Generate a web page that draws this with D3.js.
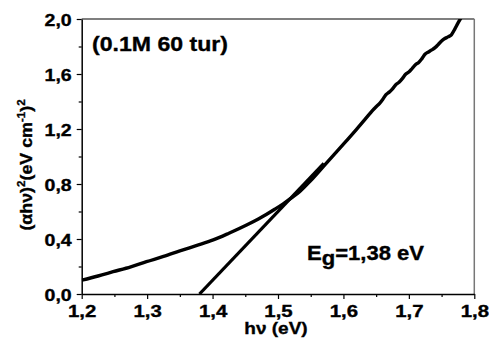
<!DOCTYPE html>
<html>
<head>
<meta charset="utf-8">
<script src="https://cdn.jsdelivr.net/npm/d3@7"></script>
<style>
  body { margin: 0; background: #fff; }
  svg { display: block; font-family: "Liberation Sans", Arial, sans-serif; font-weight: bold; }
  .lbl { stroke: #000; stroke-width: 0.35px; fill: #000; }
</style>
</head>
<body>
<svg id="chart" width="489" height="342"></svg>
<script>
// Tauc plot: photon energy (eV) vs (alpha h nu)^2
const energy = [
  1.200, 1.225, 1.248, 1.275, 1.299, 1.325, 1.350, 1.375, 1.401, 1.425,
  1.452, 1.470, 1.482, 1.495, 1.508, 1.520, 1.533, 1.550, 1.575, 1.600,
  1.620, 1.640, 1.645, 1.650, 1.655, 1.660, 1.665, 1.670, 1.675, 1.680,
  1.685, 1.690, 1.695, 1.700, 1.705, 1.710, 1.715, 1.720, 1.725, 1.730,
  1.735, 1.740, 1.745, 1.750, 1.755, 1.760, 1.765, 1.770, 1.775, 1.780, 1.785
];
const absorption = [
  0.100, 0.131, 0.162, 0.198, 0.235, 0.273, 0.313, 0.352, 0.393, 0.442,
  0.502, 0.546, 0.578, 0.616, 0.656, 0.697, 0.744, 0.825, 0.958, 1.090,
  1.198, 1.310, 1.338, 1.362, 1.385, 1.415, 1.450, 1.468, 1.492, 1.522,
  1.540, 1.566, 1.598, 1.614, 1.640, 1.668, 1.684, 1.712, 1.745, 1.760,
  1.775, 1.792, 1.815, 1.840, 1.858, 1.870, 1.885, 1.925, 1.970, 2.010, 2.050
];
// Linear extrapolation to the energy axis
const fitEnergy = [1.380, 1.570];
const fitValue = [0.000, 0.950];

const xMajor = [1.2, 1.3, 1.4, 1.5, 1.6, 1.7, 1.8];
const xMajorLabels = ["1,2", "1,3", "1,4", "1,5", "1,6", "1,7", "1,8"];
const xMinor = [1.25, 1.35, 1.45, 1.55, 1.65, 1.75];
const yMajor = [0, 0.4, 0.8, 1.2, 1.6, 2.0];
const yMajorLabels = ["0,0", "0,4", "0,8", "1,2", "1,6", "2,0"];
const yMinor = [0.2, 0.6, 1.0, 1.4, 1.8];

const sampleLabel = "(0.1M 60 tur)";
const gapLabel = ["E", "g", "=1,38 eV"];

const svg = d3.select("#chart");
const plotLeft = 81.7, plotRight = 474.3, plotTop = 19, plotBottom = 294;

const x = d3.scaleLinear().domain([1.2, 1.8]).range([plotLeft, plotRight]);
const y = d3.scaleLinear().domain([0, 2.0]).range([plotBottom, plotTop]);

// frame: top black, right grey
svg.append("line").attr("x1", plotLeft).attr("x2", plotRight).attr("y1", plotTop).attr("y2", plotTop)
  .attr("stroke", "#000").attr("stroke-width", 1.2);
svg.append("line").attr("x1", plotRight).attr("x2", plotRight).attr("y1", plotTop).attr("y2", plotBottom)
  .attr("stroke", "#777").attr("stroke-width", 1.5);

// axes
const xAxis = svg.append("g").attr("transform", `translate(0,${plotBottom})`)
  .call(d3.axisBottom(x).tickValues(xMajor).tickFormat((d, i) => xMajorLabels[i]).tickSize(5).tickSizeOuter(0));
svg.append("g").attr("transform", `translate(0,${plotBottom})`)
  .call(d3.axisBottom(x).tickValues(xMinor).tickFormat("").tickSize(3).tickSizeOuter(0))
  .select(".domain").remove();
const yAxis = svg.append("g").attr("transform", `translate(${plotLeft},0)`)
  .call(d3.axisLeft(y).tickValues(yMajor).tickFormat((d, i) => yMajorLabels[i]).tickSize(5).tickSizeOuter(0));
svg.append("g").attr("transform", `translate(${plotLeft},0)`)
  .call(d3.axisLeft(y).tickValues(yMinor).tickFormat("").tickSize(3).tickSizeOuter(0))
  .select(".domain").remove();

svg.selectAll(".domain").attr("stroke", "#000").attr("stroke-width", 1.5);
svg.selectAll(".tick line").attr("stroke", "#000").attr("stroke-width", 1.2);
xAxis.selectAll("text").attr("class", "lbl").attr("font-size", 17).attr("font-weight", "bold")
  .attr("font-family", "Liberation Sans, Arial, sans-serif")
  .attr("y", 0).attr("dy", 0).attr("transform", "translate(0,23) scale(1.2,1)");
yAxis.selectAll("text").attr("class", "lbl").attr("font-size", 17).attr("font-weight", "bold")
  .attr("font-family", "Liberation Sans, Arial, sans-serif")
  .attr("x", 0).attr("dy", 0).attr("transform", "translate(-10,6) scale(1.15,1)");

// axis titles
svg.append("text").attr("class", "lbl")
  .attr("transform", `translate(${(plotLeft + plotRight) / 2 - 2},334) scale(1.12,1)`)
  .attr("text-anchor", "middle").attr("font-size", 17).text("hν (eV)");

const yTitle = svg.append("text").attr("class", "lbl")
  .attr("transform", "translate(32,165) rotate(-90) scale(1.05,1)")
  .attr("text-anchor", "middle").attr("font-size", 17);
yTitle.append("tspan").text("(αhν)");
yTitle.append("tspan").attr("font-size", 11).attr("dy", -7).text("2");
yTitle.append("tspan").attr("dy", 7).text("(eV cm");
yTitle.append("tspan").attr("font-size", 11).attr("dy", -7).text("-1");
yTitle.append("tspan").attr("dy", 7).text(")");
yTitle.append("tspan").attr("font-size", 11).attr("dy", -7).text("2");

// clip to the plot area
svg.append("clipPath").attr("id", "plot").append("rect")
  .attr("x", plotLeft).attr("y", plotTop).attr("width", plotRight - plotLeft).attr("height", plotBottom - plotTop);

const line = d3.line().x(d => x(d[0])).y(d => y(d[1])).curve(d3.curveMonotoneX);
svg.append("path").attr("clip-path", "url(#plot)")
  .attr("d", line(energy.map((e, i) => [e, absorption[i]])))
  .attr("fill", "none").attr("stroke", "#000").attr("stroke-width", 3.4).attr("stroke-linejoin", "round");
svg.append("path").attr("clip-path", "url(#plot)")
  .attr("d", d3.line().x(d => x(d[0])).y(d => y(d[1]))(fitEnergy.map((e, i) => [e, fitValue[i]])))
  .attr("fill", "none").attr("stroke", "#000").attr("stroke-width", 3.2);

// annotations
svg.append("text").attr("class", "lbl").attr("transform", "translate(92,51) scale(1.1,1)")
  .attr("font-size", 21).text(sampleLabel);
const eg = svg.append("text").attr("class", "lbl").attr("transform", "translate(307,260) scale(1.05,1)")
  .attr("font-size", 21);
eg.append("tspan").text(gapLabel[0]);
eg.append("tspan").attr("dy", 5).text(gapLabel[1]);
eg.append("tspan").attr("dy", -5).text(gapLabel[2]);
</script>
</body>
</html>
